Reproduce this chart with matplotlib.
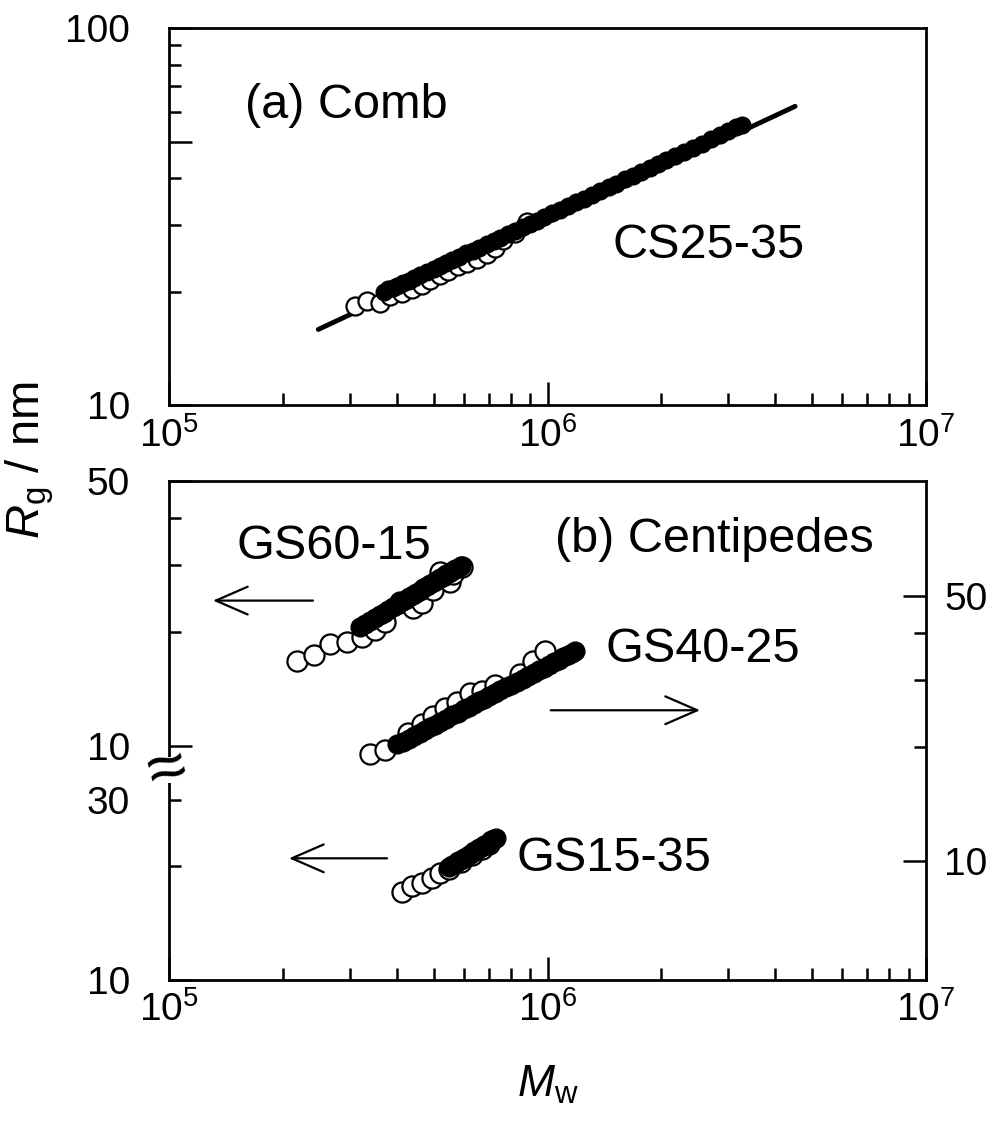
import matplotlib
matplotlib.use('Agg')
import matplotlib.pyplot as plt
from matplotlib.patches import Rectangle
from matplotlib.ticker import LogLocator, NullFormatter

plt.rcParams['font.family'] = ['Liberation Sans', 'DejaVu Sans']
plt.rcParams['mathtext.fontset'] = 'custom'
plt.rcParams['mathtext.rm'] = 'Liberation Sans'
plt.rcParams['mathtext.it'] = 'Liberation Sans:italic'

# (a) comb CS25-35
cs_fit_m = [2.48e5, 4.51e6]
cs_fit_rg = [15.9, 62.0]
cs_open_m = [3.10e5, 3.33e5, 3.61e5, 3.84e5, 4.12e5, 4.38e5, 4.65e5, 4.89e5, 5.20e5,
             5.47e5, 5.81e5, 6.12e5, 6.50e5, 6.91e5, 7.27e5, 7.64e5, 8.20e5, 8.81e5]
cs_open_rg = [18.3, 18.9, 18.7, 19.5, 19.9, 20.4, 20.9, 21.5, 22.2,
              22.7, 23.4, 23.8, 24.4, 25.2, 26.1, 27.5, 28.6, 30.7]
cs_fill_m = [3.7e5, 3.8e5, 3.9e5, 4.0e5, 4.15e5, 4.3e5, 4.45e5, 4.6e5, 4.8e5, 5.0e5,
             5.2e5, 5.4e5, 5.6e5, 5.85e5, 6.1e5, 6.35e5, 6.6e5, 6.9e5, 7.2e5, 7.5e5,
             7.85e5, 8.2e5, 8.6e5, 9.0e5, 9.4e5, 9.8e5, 1.03e6, 1.08e6, 1.13e6, 1.19e6,
             1.25e6, 1.31e6, 1.38e6, 1.45e6, 1.52e6, 1.6e6, 1.68e6, 1.77e6, 1.86e6, 1.96e6,
             2.06e6, 2.17e6, 2.29e6, 2.42e6, 2.56e6, 2.7e6, 2.85e6, 3.0e6, 3.15e6, 3.27e6]
cs_fill_rg = [20.0, 20.3, 20.5, 20.7, 21.1, 21.4, 21.8, 22.2, 22.6, 23.0,
              23.4, 23.9, 24.3, 24.8, 25.3, 25.7, 26.2, 26.8, 27.3, 27.8,
              28.4, 29.0, 29.7, 30.3, 30.9, 31.5, 32.3, 33.0, 33.7, 34.5,
              35.3, 36.1, 37.0, 37.9, 38.7, 39.7, 40.6, 41.6, 42.6, 43.6,
              44.7, 45.8, 46.9, 48.1, 49.4, 50.7, 52.0, 53.4, 54.5, 55.4]

# (b) centipedes, GS60-15 (upper left scale)
g60_open_m = [2.18e5, 2.41e5, 2.66e5, 2.95e5, 3.23e5, 3.50e5, 3.72e5, 4.08e5, 4.42e5,
              4.65e5, 4.99e5, 5.20e5, 5.53e5, 5.64e5, 5.93e5]
g60_open_rg = [16.7, 17.4, 18.6, 18.8, 19.4, 20.2, 21.3, 24.0, 23.1,
               23.8, 25.8, 28.8, 27.1, 28.5, 29.7]
g60_fill_m = [3.2e5, 3.3e5, 3.4e5, 3.5e5, 3.6e5, 3.7e5, 3.8e5, 3.9e5, 4.0e5, 4.1e5,
              4.2e5, 4.3e5, 4.4e5, 4.5e5, 4.6e5, 4.7e5, 4.8e5, 4.9e5, 5.0e5, 5.1e5,
              5.2e5, 5.3e5, 5.4e5, 5.5e5, 5.6e5, 5.7e5, 5.8e5, 5.9e5]
g60_fill_rg = [20.6, 21.0, 21.4, 21.8, 22.2, 22.5, 22.9, 23.3, 23.6, 24.0,
               24.3, 24.7, 25.0, 25.4, 25.7, 26.1, 26.4, 26.7, 27.1, 27.4,
               27.7, 28.0, 28.4, 28.7, 29.0, 29.3, 29.6, 29.9]

# GS40-25 (right scale)
g40_open_m = [3.40e5, 3.72e5, 4.29e5, 4.65e5, 4.99e5, 5.36e5, 5.76e5, 6.24e5, 6.70e5,
              7.27e5, 8.46e5, 9.18e5, 9.85e5]
g40_open_rg = [19.1, 19.6, 21.7, 23.0, 24.1, 25.3, 26.2, 27.7, 28.1,
               29.1, 31.1, 33.8, 35.8]
g40_fill_m = [4.0e5, 4.15e5, 4.3e5, 4.45e5, 4.6e5, 4.75e5, 4.9e5, 5.05e5, 5.2e5, 5.4e5,
              5.6e5, 5.8e5, 6.0e5, 6.2e5, 6.4e5, 6.6e5, 6.8e5, 7.0e5, 7.25e5, 7.5e5,
              7.75e5, 8.0e5, 8.3e5, 8.6e5, 8.9e5, 9.2e5, 9.5e5, 9.8e5, 1.01e6, 1.04e6,
              1.07e6, 1.10e6, 1.13e6, 1.16e6, 1.18e6]
g40_fill_rg = [20.3, 20.6, 21.0, 21.4, 21.8, 22.2, 22.5, 22.9, 23.3, 23.7,
               24.2, 24.6, 25.1, 25.5, 25.9, 26.4, 26.8, 27.2, 27.7, 28.2,
               28.7, 29.2, 29.7, 30.3, 30.8, 31.4, 31.9, 32.4, 33.0, 33.5,
               34.0, 34.5, 35.0, 35.5, 35.8]

# GS15-35 (lower left scale)
g15_open_m = [4.12e5, 4.38e5, 4.65e5, 4.94e5, 5.20e5, 5.5e5, 5.9e5, 6.3e5, 6.7e5, 7.0e5]
g15_open_rg = [17.1, 17.7, 18.1, 18.6, 19.2, 19.6, 20.5, 21.4, 22.2, 22.9]
g15_fill_m = [5.5e5, 5.6e5, 5.7e5, 5.8e5, 5.9e5, 6.0e5, 6.1e5, 6.2e5, 6.3e5, 6.4e5,
              6.5e5, 6.6e5, 6.7e5, 6.8e5, 6.9e5, 7.0e5, 7.1e5, 7.2e5, 7.3e5]
g15_fill_rg = [19.9, 20.1, 20.3, 20.6, 20.8, 21.0, 21.2, 21.4, 21.7, 21.9,
               22.1, 22.3, 22.5, 22.7, 22.9, 23.1, 23.4, 23.6, 23.8]

x_ticks = [1e5, 1e6, 1e7]
x_labels = ['$10^{5}$', '$10^{6}$', '$10^{7}$']

tsize = 28
fsize = 35
ms_open = 13
ms_fill = 12


def style_x(ax):
    ax.set_xscale('log')
    ax.set_xlim(1e5, 1e7)
    ax.set_xticks(x_ticks)
    ax.set_xticklabels(x_labels)
    ax.xaxis.set_minor_locator(LogLocator(base=10, subs=range(2, 10)))
    ax.xaxis.set_minor_formatter(NullFormatter())
    ax.tick_params(axis='x', which='both', direction='in', top=False,
                   labelsize=tsize, pad=8, width=1.8)
    ax.tick_params(axis='x', which='major', length=16.5)
    ax.tick_params(axis='x', which='minor', length=8.5)
    for s in ax.spines.values():
        s.set_linewidth(2.0)


fig = plt.figure(figsize=(9.97, 11.22), dpi=100)

# ---- (a) ----
ax1 = fig.add_axes([0.1695, 0.6386, 0.7593, 0.3365])
ax1.plot(cs_fit_m, cs_fit_rg, color='k', lw=3.5, solid_capstyle='round', zorder=1)
ax1.plot(cs_open_m, cs_open_rg, 'o', mfc='white', mec='k', ms=ms_open, mew=1.6, zorder=2)
ax1.plot(cs_fill_m, cs_fill_rg, 'o', mfc='k', mec='k', ms=ms_fill, zorder=3)
style_x(ax1)
ax1.set_yscale('log')
ax1.set_ylim(10, 100)
ax1.set_yticks([10, 50, 100])
ax1.set_yticklabels(['10', '', '100'])
ax1.set_yticks([20, 30, 40, 60, 70, 80, 90], minor=True)
ax1.yaxis.set_minor_formatter(NullFormatter())
ax1.tick_params(axis='y', which='both', direction='in', right=False,
                labelsize=tsize, pad=28, width=1.8)
ax1.tick_params(axis='y', which='major', length=16.5)
ax1.tick_params(axis='y', which='minor', length=8.5)
ax1.text(0.100, 0.761, '(a) Comb', transform=ax1.transAxes, fontsize=fsize,
         ha='left', va='baseline')
ax1.text(0.5865, 0.391, 'CS25-35', transform=ax1.transAxes, fontsize=fsize,
         ha='left', va='baseline')

# ---- (b) ----
ax2 = fig.add_axes([0.1695, 0.1266, 0.7593, 0.4443])
ax_u = ax2.twinx()
ax_r = ax2.twinx()

ax2.plot(g15_open_m, g15_open_rg, 'o', mfc='white', mec='k', ms=ms_open + 1.5, mew=1.6, zorder=2)
ax2.plot(g15_fill_m, g15_fill_rg, 'o', mfc='k', mec='k', ms=ms_fill + 1.5, zorder=3)
ax_u.plot(g60_open_m, g60_open_rg, 'o', mfc='white', mec='k', ms=ms_open + 1.5, mew=1.6, zorder=2)
ax_u.plot(g60_fill_m, g60_fill_rg, 'o', mfc='k', mec='k', ms=ms_fill + 1.5, zorder=3)
ax_r.plot(g40_open_m, g40_open_rg, 'o', mfc='white', mec='k', ms=ms_open + 1.5, mew=1.6, zorder=2)
ax_r.plot(g40_fill_m, g40_fill_rg, 'o', mfc='k', mec='k', ms=ms_fill + 1.5, zorder=3)

style_x(ax2)

for ax in (ax2, ax_u, ax_r):
    ax.set_yscale('log')
    ax.yaxis.set_minor_formatter(NullFormatter())

# lower left scale
ax2.set_ylim(10, 208.4)
ax2.set_yticks([10])
ax2.set_yticklabels(['10'])
ax2.set_yticks([20, 30], minor=True)
ax2.set_yticklabels(['', '30'], minor=True)
ax2.tick_params(axis='y', which='both', direction='in', right=False,
                labelsize=tsize, pad=28, width=1.8)
ax2.tick_params(axis='y', which='major', length=16.5)
ax2.tick_params(axis='y', which='minor', length=8.5)

# upper left scale
ax_u.set_ylim(2.40, 50)
ax_u.yaxis.tick_left()
ax_u.set_yticks([10, 50])
ax_u.set_yticklabels(['10', '50'])
ax_u.set_yticks([20, 30, 40], minor=True)
ax_u.tick_params(axis='y', which='both', direction='in', left=True, right=False,
                 labelleft=True, labelright=False, labelsize=tsize, pad=28, width=1.8)
ax_u.tick_params(axis='y', which='major', length=16.5)
ax_u.tick_params(axis='y', which='minor', length=8.5)
for s in ax_u.spines.values():
    s.set_visible(False)

# right scale
ax_r.set_ylim(4.83, 100.7)
ax_r.set_yticks([10, 50])
ax_r.set_yticklabels(['10', '50'])
ax_r.set_yticks([20, 30, 40], minor=True)
ax_r.tick_params(axis='y', which='both', direction='in', labelsize=tsize, pad=13, width=1.8)
ax_r.tick_params(axis='y', which='major', length=16.5)
ax_r.tick_params(axis='y', which='minor', length=8.5)
for s in ax_r.spines.values():
    s.set_visible(False)

ax_r.text(0.0898, 0.845, 'GS60-15', transform=ax2.transAxes, fontsize=fsize,
          ha='left', va='baseline')
ax_r.text(0.5099, 0.859, '(b) Centipedes', transform=ax2.transAxes, fontsize=fsize,
          ha='left', va='baseline')
ax_r.text(0.576, 0.637, 'GS40-25', transform=ax2.transAxes, fontsize=fsize,
          ha='left', va='baseline')
ax_r.text(0.4597, 0.219, 'GS15-35', transform=ax2.transAxes, fontsize=fsize,
          ha='left', va='baseline')

arrow_kw = dict(arrowstyle='->,head_length=1.15,head_width=0.5', lw=1.6, color='k',
                shrinkA=0, shrinkB=0, mutation_scale=20)
ax_r.annotate('', xy=(0.0581, 0.761), xytext=(0.1902, 0.761),
              xycoords=ax2.transAxes, textcoords=ax2.transAxes, arrowprops=arrow_kw)
ax_r.annotate('', xy=(0.7015, 0.541), xytext=(0.5042, 0.541),
              xycoords=ax2.transAxes, textcoords=ax2.transAxes, arrowprops=arrow_kw)
ax_r.annotate('', xy=(0.1585, 0.244), xytext=(0.288, 0.244),
              xycoords=ax2.transAxes, textcoords=ax2.transAxes, arrowprops=arrow_kw)

# axis break mark on the left spine: gap in the spine plus the wavy sign
fig.add_artist(Rectangle((164 / 997, 1 - 783 / 1122), 11 / 997, 26 / 1122,
                         transform=fig.transFigure, facecolor='white',
                         edgecolor='none', zorder=9))
fig.text(0.1675, 1 - 771 / 1122, '\u2248', fontsize=50, rotation=15,
         ha='center', va='center', zorder=10)

fig.text(30 / 997, 1 - 460 / 1122, '$R_{\\mathrm{g}}$ / nm', fontsize=34,
         rotation=90, ha='center', va='center')
fig.text(548 / 997, 1 - 1085 / 1122, '$M_{\\mathrm{w}}$', fontsize=32,
         ha='center', va='center')

plt.savefig('out.png', dpi=100)
